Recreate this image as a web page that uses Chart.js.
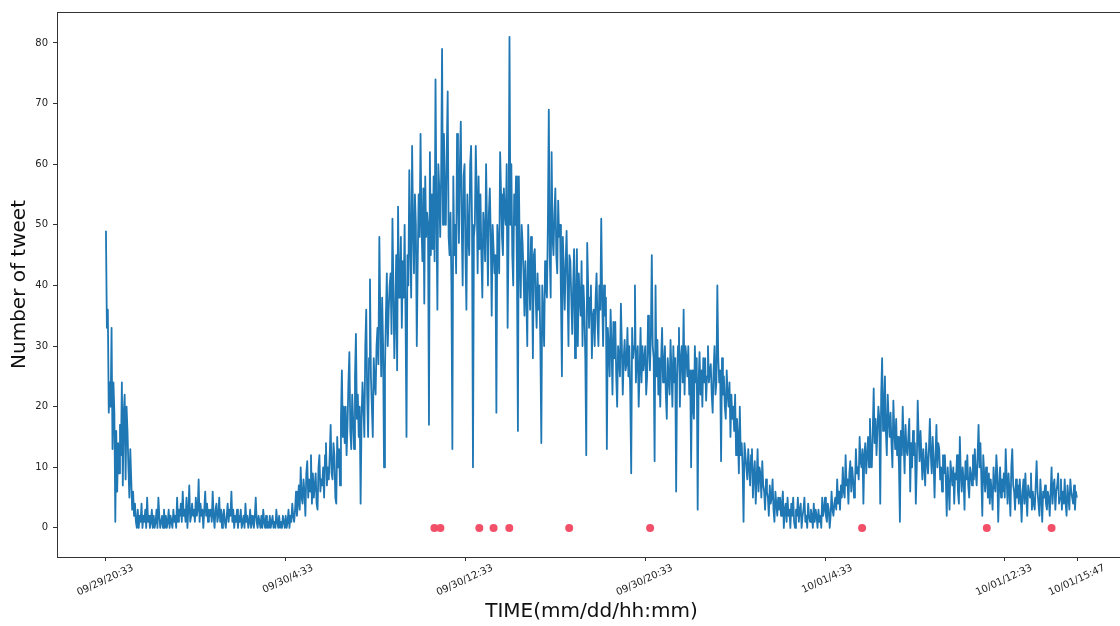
<!DOCTYPE html>
<html lang="en">
<head>
  <meta charset="UTF-8" />
  <title>Number of tweet over time</title>
  <script src="https://cdn.jsdelivr.net/npm/chart.js"></script>
  <style>
    html, body { margin: 0; padding: 0; background: #fff; overflow: hidden; }
    #wrap { width: 1130px; height: 626px; }
  </style>
</head>
<body>
  <div id="wrap">
    <canvas id="tweetChart" width="1130" height="626"></canvas>
  </div>

  <script>
    // one sample every 2.5 minutes, starting 09/29 20:33
    const sampleStep = 2.5;
    const tweetCounts = [
      49, 33, 36, 19, 24, 20, 33, 13, 24, 19, 1, 16, 6, 14, 9, 17,
      12, 24, 7, 19, 22, 8, 20, 16, 10, 5, 13, 8, 3, 6, 2, 4,
      1, 0, 3, 0, 2, 1, 4, 0, 2, 1, 3, 0, 5, 1, 2, 0,
      1, 3, 0, 2, 0, 1, 3, 0, 5, 2, 0, 1, 2, 0, 3, 0,
      2, 0, 1, 3, 0, 2, 1, 0, 3, 1, 2, 0, 5, 1, 3, 2,
      4, 1, 6, 2, 3, 1, 5, 0, 3, 7, 1, 2, 4, 2, 3, 1,
      5, 2, 3, 8, 1, 4, 2, 3, 0, 3, 6, 2, 4, 1, 3, 2,
      3, 1, 6, 2, 0, 3, 4, 1, 2, 5, 1, 3, 0, 2, 3, 1,
      0, 2, 4, 1, 3, 2, 6, 1, 3, 0, 2, 1, 3, 0, 2, 1,
      3, 0, 1, 2, 0, 4, 1, 2, 0, 1, 3, 0, 2, 1, 0, 2,
      5, 1, 0, 2, 1, 0, 2, 0, 3, 1, 0, 2, 0, 1, 0, 2,
      0, 1, 2, 0, 1, 0, 3, 1, 0, 2, 0, 1, 0, 2, 1, 0,
      2, 0, 1, 3, 0, 2, 1, 4, 2, 1, 3, 6, 2, 4, 7, 3,
      10, 5, 4, 8, 6, 2, 9, 11, 5, 8, 6, 12, 4, 9, 5, 7,
      9, 4, 3, 10, 12, 6, 8, 7, 10, 5, 12, 14, 7, 10, 8, 12,
      17, 9, 8, 14, 12, 5, 4, 15, 10, 13, 7, 18, 26, 15, 20, 14,
      20, 12, 17, 24, 29, 16, 13, 22, 18, 13, 25, 32, 18, 22, 15, 20,
      4, 18, 24, 20, 15, 30, 36, 22, 15, 28, 41, 25, 20, 15, 28, 24,
      22, 30, 33, 27, 48, 35, 25, 38, 30, 10, 26, 35, 42, 30, 36, 40,
      42, 32, 51, 40, 28, 35, 45, 26, 53, 38, 40, 48, 33, 44, 38, 50,
      35, 15, 45, 40, 59, 47, 38, 63, 50, 42, 55, 50, 30, 44, 55, 48,
      65, 50, 44, 56, 37, 58, 48, 52, 50, 17, 62, 45, 55, 46, 58, 44,
      74, 52, 36, 60, 56, 48, 58, 79, 50, 65, 55, 50, 62, 72, 48, 45,
      52, 40, 13, 58, 45, 50, 42, 65, 55, 47, 60, 67, 50, 40, 58, 60,
      45, 36, 55, 48, 45, 60, 63, 50, 10, 48, 50, 63, 55, 42, 58, 46,
      55, 45, 38, 52, 49, 44, 60, 50, 40, 52, 56, 48, 35, 50, 46, 42,
      45, 19, 50, 46, 42, 62, 55, 48, 45, 56, 52, 50, 60, 33, 48, 81,
      50, 60, 45, 40, 55, 50, 58, 42, 16, 58, 45, 38, 50, 47, 42, 35,
      44, 38, 30, 50, 42, 36, 48, 42, 28, 45, 46, 38, 33, 42, 36, 40,
      30, 14, 40, 35, 30, 44, 40, 38, 50, 69, 45, 38, 62, 48, 45, 52,
      56, 45, 42, 54, 48, 50, 38, 25, 48, 42, 36, 44, 49, 40, 30, 45,
      44, 38, 32, 40, 46, 28, 38, 46, 30, 42, 38, 35, 44, 30, 40, 36,
      28, 12, 47, 40, 33, 38, 40, 28, 35, 36, 30, 38, 42, 34, 30, 40,
      36, 51, 38, 30, 40, 35, 38, 13, 33, 30, 25, 36, 30, 22, 34, 28,
      34, 25, 20, 30, 28, 25, 37, 30, 22, 28, 31, 26, 27, 33, 25, 30,
      22, 9, 33, 28, 30, 40, 24, 28, 30, 20, 26, 33, 24, 30, 26, 28,
      30, 22, 25, 35, 30, 26, 32, 45, 30, 28, 11, 40, 25, 31, 22, 28,
      20, 28, 33, 24, 27, 30, 22, 18, 28, 25, 22, 31, 26, 20, 30, 24,
      28, 6, 25, 30, 33, 20, 28, 30, 24, 36, 22, 30, 28, 25, 30, 22,
      26, 10, 26, 20, 18, 30, 24, 28, 3, 24, 29, 22, 26, 20, 28, 24,
      28, 21, 25, 30, 24, 26, 27, 22, 19, 26, 30, 22, 24, 40, 28, 24,
      26, 11, 28, 22, 25, 20, 18, 26, 22, 20, 24, 15, 22, 18, 20, 16,
      22, 12, 18, 15, 9, 20, 12, 14, 10, 1, 14, 12, 10, 8, 13, 10,
      7, 12, 13, 5, 9, 11, 4, 8, 13, 6, 10, 9, 5, 11, 7, 6,
      3, 8, 6, 5, 2, 7, 4, 5, 8, 3, 1, 6, 4, 2, 5, 3,
      5, 2, 4, 6, 0, 3, 4, 1, 5, 2, 3, 0, 4, 2, 5, 1,
      0, 3, 2, 5, 1, 3, 4, 0, 2, 3, 5, 1, 2, 0, 4, 2,
      1, 3, 2, 0, 4, 1, 3, 2, 0, 3, 1, 2, 0, 5, 2, 3,
      5, 2, 1, 4, 3, 0, 2, 6, 3, 2, 4, 5, 3, 8, 4, 6,
      3, 7, 5, 10, 6, 5, 12, 7, 8, 4, 9, 11, 6, 10, 8, 5,
      7, 13, 9, 10, 8, 15, 11, 10, 13, 4, 12, 14, 9, 12, 15, 10,
      18, 12, 10, 16, 23, 14, 18, 12, 16, 20, 18, 4, 22, 28, 16, 20,
      25, 16, 12, 22, 18, 15, 19, 14, 10, 21, 16, 13, 18, 12, 15, 10,
      1, 16, 12, 20, 14, 9, 17, 13, 12, 15, 18, 6, 14, 10, 16, 12,
      14, 4, 10, 21, 15, 11, 16, 12, 8, 13, 10, 7, 14, 11, 9, 13,
      18, 12, 9, 15, 11, 5, 12, 17, 10, 14, 13, 8, 10, 6, 12, 9,
      12, 8, 2, 10, 7, 3, 11, 9, 7, 10, 4, 9, 8, 12, 6, 4,
      15, 9, 6, 10, 8, 3, 11, 8, 12, 7, 5, 10, 9, 7, 12, 8,
      13, 9, 7, 12, 17, 10, 14, 8, 2, 12, 9, 6, 10, 8, 5, 9,
      4, 8, 6, 3, 10, 7, 6, 12, 9, 1, 7, 10, 5, 8, 6, 9,
      5, 13, 8, 4, 9, 6, 2, 10, 13, 7, 6, 3, 8, 5, 7, 4,
      8, 5, 1, 6, 8, 4, 9, 5, 2, 7, 6, 5, 9, 3, 6, 4,
      3, 7, 11, 6, 4, 2, 8, 5, 1, 6, 5, 7, 4, 3, 6, 5,
      2, 6, 10, 4, 7, 8, 3, 6, 7, 9, 4, 5, 8, 3, 6, 4,
      8, 4, 2, 7, 5, 3, 8, 6, 5, 4, 7, 3, 6, 5
    ];

    // red markers (minutes after start), drawn on the zero line
    const eventMinutes = [877, 893, 997, 1035, 1077, 1237, 1453, 2019, 2352, 2525];
    const eventCounts = [0, 0, 0, 0, 0, 0, 0, 0, 0, 0];

    const tickMinutes = [0, 480, 960, 1440, 1920, 2400, 2594];
    const tickLabels = ['09/29/20:33', '09/30/4:33', '09/30/12:33', '09/30/20:33',
                        '10/01/4:33', '10/01/12:33', '10/01/15:47'];
    const yTicks = [0, 10, 20, 30, 40, 50, 60, 70, 80];

    const lineData = tweetCounts.map((v, i) => ({ x: i * sampleStep, y: v }));
    const eventData = eventMinutes.map((m, i) => ({ x: m, y: eventCounts[i] }));

    // matplotlib-style box around the axes
    const frame = {
      id: 'frame',
      afterDraw(chart) {
        const { ctx, chartArea: a } = chart;
        ctx.save();
        ctx.strokeStyle = '#333';
        ctx.lineWidth = 1;
        ctx.strokeRect(Math.round(a.left) + 0.5, Math.round(a.top) + 0.5,
                       Math.round(a.right - a.left), Math.round(a.bottom - a.top));
        ctx.restore();
      }
    };

    const tickFont = { family: 'DejaVu Sans', size: 10 };
    const titleFont = { family: 'DejaVu Sans', size: 20 };

    new Chart(document.getElementById('tweetChart'), {
      type: 'line',
      data: {
        datasets: [
          {
            label: 'tweets',
            data: lineData,
            borderColor: '#1f77b4',
            borderWidth: 1.8,
            borderJoinStyle: 'round',
            pointRadius: 0,
            tension: 0,
            fill: false
          },
          {
            label: 'events',
            data: eventData,
            showLine: false,
            pointRadius: 4,
            pointBackgroundColor: '#f25068',
            pointBorderWidth: 0
          }
        ]
      },
      options: {
        responsive: false,
        animation: false,
        parsing: false,
        layout: { padding: { top: 12, right: 3, left: 0, bottom: 0 } },
        plugins: {
          legend: { display: false },
          tooltip: { enabled: false }
        },
        scales: {
          x: {
            type: 'linear',
            min: -130.7,
            max: 2723.7,
            afterFit: (s) => { s.height = 69; },
            afterBuildTicks: (s) => { s.ticks = tickMinutes.map(v => ({ value: v })); },
            border: { display: false },
            grid: { drawOnChartArea: false, drawTicks: true, tickLength: 4, color: '#333' },
            ticks: {
              autoSkip: false,
              minRotation: 25,
              maxRotation: 25,
              labelOffset: 27,
              padding: 1,
              color: '#222',
              font: tickFont,
              callback: (v) => tickLabels[tickMinutes.indexOf(v)]
            },
            title: {
              display: true,
              text: 'TIME(mm/dd/hh:mm)',
              color: '#111',
              font: titleFont,
              padding: { top: 0, bottom: 2 }
            }
          },
          y: {
            min: -4.8,
            max: 85.1,
            afterFit: (s) => { s.width = 57; },
            afterBuildTicks: (s) => { s.ticks = yTicks.map(v => ({ value: v })); },
            border: { display: false },
            grid: { drawOnChartArea: false, drawTicks: true, tickLength: 4, color: '#333' },
            ticks: { padding: 5, color: '#222', font: tickFont },
            title: {
              display: true,
              text: 'Number of tweet',
              color: '#111',
              font: titleFont,
              padding: { top: 8, bottom: 0 }
            }
          }
        }
      },
      plugins: [frame]
    });
  </script>
</body>
</html>
